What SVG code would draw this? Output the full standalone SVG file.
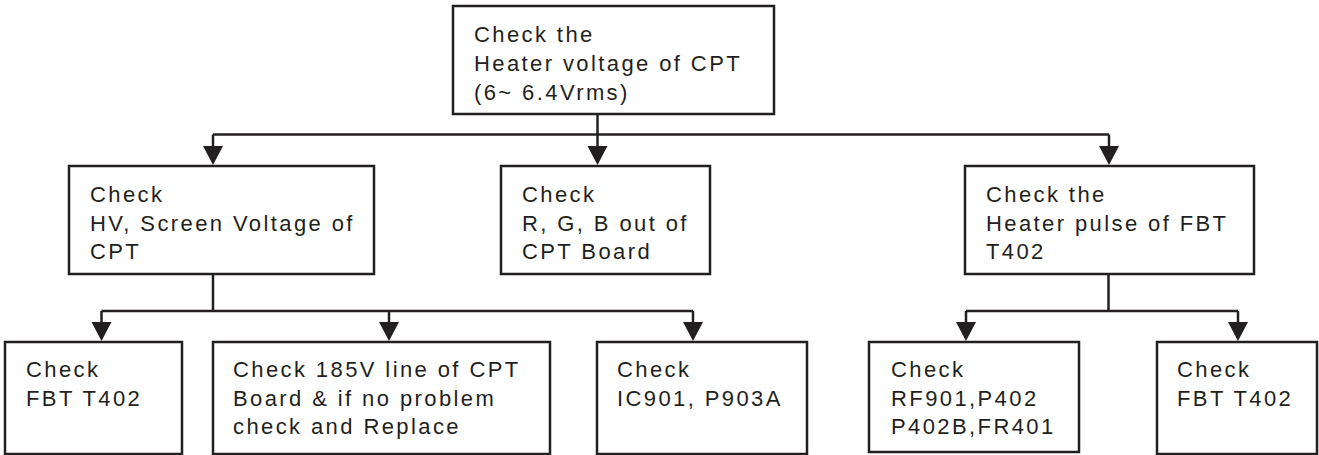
<svg xmlns="http://www.w3.org/2000/svg" width="1319" height="455" viewBox="0 0 1319 455">
<style>
.box{fill:#fff;stroke:#231f20;stroke-width:2.5}
.t{font-family:"Liberation Sans",Arial,sans-serif;font-size:22px;letter-spacing:2.4px;fill:#231f20}
.ln{fill:none;stroke:#231f20;stroke-width:2.5}
.ah{fill:#231f20}
</style>
<defs>
<path id="arrow" class="ah" d="M-10,-19 L10,-19 L0,0 Z"/>
</defs>
<g id="connectors">
<path class="ln" d="M597.5,114 V134.5"/>
<path class="ln" d="M213,134.5 H1109"/>
<path class="ln" d="M213,134.5 V150"/>
<path class="ln" d="M597.5,134.5 V150"/>
<path class="ln" d="M1109,134.5 V150"/>
<use href="#arrow" x="213" y="165"/>
<use href="#arrow" x="597.5" y="165"/>
<use href="#arrow" x="1109" y="165"/>
<path class="ln" d="M213,274 V311"/>
<path class="ln" d="M101.5,311 H693"/>
<path class="ln" d="M101.5,311 V326"/>
<path class="ln" d="M389,311 V326"/>
<path class="ln" d="M693,311 V326"/>
<use href="#arrow" x="101.5" y="341"/>
<use href="#arrow" x="389" y="341"/>
<use href="#arrow" x="693" y="341"/>
<path class="ln" d="M1108.5,274 V311"/>
<path class="ln" d="M966,311 H1238"/>
<path class="ln" d="M966,311 V326"/>
<path class="ln" d="M1238,311 V326"/>
<use href="#arrow" x="966" y="341"/>
<use href="#arrow" x="1238" y="341"/>
</g>
<g id="n-top">
<rect class="box" x="453" y="6" width="321" height="108"/>
<text class="t" x="474" y="42">Check the</text>
<text class="t" x="474" y="71">Heater voltage of CPT</text>
<text class="t" x="474" y="99.5">(6~ 6.4Vrms)</text>
</g>
<g id="n-hv">
<rect class="box" x="69" y="166" width="305" height="108"/>
<text class="t" x="90" y="202">Check</text>
<text class="t" x="90" y="231">HV, Screen Voltage of</text>
<text class="t" x="90" y="259">CPT</text>
</g>
<g id="n-rgb">
<rect class="box" x="501" y="166" width="209" height="108"/>
<text class="t" x="522" y="202">Check</text>
<text class="t" x="522" y="231">R, G, B out of</text>
<text class="t" x="522" y="259">CPT Board</text>
</g>
<g id="n-pulse">
<rect class="box" x="965" y="166" width="289" height="108"/>
<text class="t" x="986" y="202">Check the</text>
<text class="t" x="986" y="231">Heater pulse of FBT</text>
<text class="t" x="986" y="259">T402</text>
</g>
<g id="n-fbt1">
<rect class="box" x="5" y="342" width="177" height="112"/>
<text class="t" x="26" y="377">Check</text>
<text class="t" x="26" y="405.5">FBT T402</text>
</g>
<g id="n-185">
<rect class="box" x="213" y="342" width="337" height="112"/>
<text class="t" x="233" y="377">Check 185V line of CPT</text>
<text class="t" x="233" y="405.5">Board &amp; if no problem</text>
<text class="t" x="233" y="434">check and Replace</text>
</g>
<g id="n-ic">
<rect class="box" x="597" y="342" width="210" height="112"/>
<text class="t" x="617" y="377">Check</text>
<text class="t" x="617" y="405.5">IC901, P903A</text>
</g>
<g id="n-rf">
<rect class="box" x="869" y="342" width="210" height="110"/>
<text class="t" x="891" y="377">Check</text>
<text class="t" x="891" y="405.5">RF901,P402</text>
<text class="t" x="891" y="434">P402B,FR401</text>
</g>
<g id="n-fbt2">
<rect class="box" x="1157" y="342" width="160" height="112"/>
<text class="t" x="1177" y="377">Check</text>
<text class="t" x="1177" y="405.5">FBT T402</text>
</g>
</svg>
